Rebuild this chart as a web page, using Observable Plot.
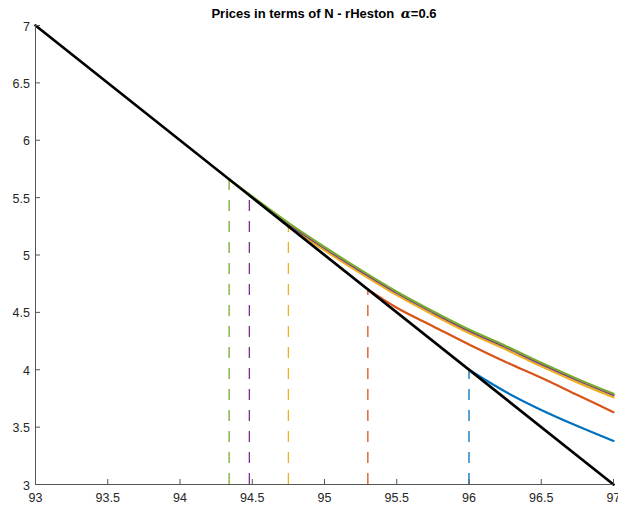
<!DOCTYPE html>
<html><head><meta charset="utf-8">
<script src="https://cdn.jsdelivr.net/npm/d3@7"></script>
<script src="https://cdn.jsdelivr.net/npm/@observablehq/plot@0.6"></script>
<style>body{margin:0;background:#fff}</style>
</head><body><div id="chart"></div>
<script>
const titleMain = "Prices in terms of N - rHeston ";
const titleAlpha = "α";
const titleRest = "=0.6";
const xTicks = [93, 93.5, 94, 94.5, 95, 95.5, 96, 96.5, 97];
const yTicks = [3, 3.5, 4, 4.5, 5, 5.5, 6, 6.5, 7];

const payoffX = [93, 97];
const payoffY = [7, 3];

const blueX = [96, 96.25, 96.5, 96.75, 97];
const blueY = [4.0, 3.81, 3.65, 3.51, 3.38];
const orangeX = [95.30, 95.5, 95.75, 96, 96.25, 96.5, 96.75, 97];
const orangeY = [4.70, 4.54, 4.38, 4.22, 4.07, 3.93, 3.78, 3.63];
const yellowX = [94.75, 95, 95.25, 95.5, 95.75, 96, 96.25, 96.5, 96.75, 97];
const yellowY = [5.25, 5.04, 4.84, 4.65, 4.48, 4.32, 4.18, 4.03, 3.89, 3.76];
const purpleX = [94.48, 94.75, 95, 95.25, 95.5, 95.75, 96, 96.25, 96.5, 96.75, 97];
const purpleY = [5.52, 5.27, 5.06, 4.86, 4.67, 4.50, 4.34, 4.20, 4.05, 3.91, 3.78];
const greenX = [94.34, 94.5, 94.75, 95, 95.25, 95.5, 95.75, 96, 96.25, 96.5, 96.75, 97];
const greenY = [5.66, 5.51, 5.28, 5.07, 4.87, 4.68, 4.51, 4.35, 4.21, 4.06, 3.92, 3.79];

const seriesX = [blueX, orangeX, yellowX, purpleX, greenX];
const seriesY = [blueY, orangeY, yellowY, purpleY, greenY];
const colors = ["#0072BD", "#D95319", "#EDB120", "#7E2F8E", "#77AC30"];

const textColor = "#262626";
const font = "'Liberation Sans', Arial, Helvetica, sans-serif";

const strikes = seriesX.map(xs => xs[0]);
const strikeTops = seriesY.map(ys => ys[0]);
const dashRows = strikes.map((k, i) => ({k, top: strikeTops[i], c: colors[i]}));

const W = 618, H = 508, mL = 35, mR = 5, mT = 25, mB = 24;

const marks = [];
marks.push(Plot.ruleX(dashRows, {x: "k", y1: yTicks[0], y2: "top", stroke: "c", strokeWidth: 1.3, strokeDasharray: "11,10"}));
seriesX.forEach((xs, i) => {
  const rows = xs.map((x, j) => ({x, y: seriesY[i][j]}));
  marks.push(Plot.line(rows, {x: "x", y: "y", stroke: colors[i], strokeWidth: 2.2, curve: "monotone-x"}));
});
marks.push(Plot.line(payoffX.map((x, j) => ({x, y: payoffY[j]})), {x: "x", y: "y", stroke: "#000", strokeWidth: 2.7}));
marks.push(Plot.ruleY([yTicks[0]], {stroke: "#555", strokeWidth: 1}));
marks.push(Plot.ruleX([xTicks[0]], {stroke: "#555", strokeWidth: 1}));
marks.push(Plot.tickX(xTicks, {x: d => d, insetTop: (H - mT - mB) - 5, stroke: "#555", strokeWidth: 1}));
marks.push(Plot.tickY(yTicks, {y: d => d, insetRight: (W - mL - mR) - 5, stroke: "#555", strokeWidth: 1}));
marks.push(Plot.axisX({ticks: xTicks, tickSize: 0, tickPadding: 9, tickFormat: d => String(d), fill: textColor, fontSize: 12.5}));
marks.push(Plot.axisY({ticks: yTicks, tickSize: 0, tickPadding: 5.5, tickFormat: d => String(d), fill: textColor, fontSize: 12.5, dy: 1}));

const chart = Plot.plot({
  width: W, height: H,
  marginLeft: mL, marginRight: mR, marginTop: mT, marginBottom: mB,
  style: {fontFamily: font, fontSize: "12.5px", background: "#fff", color: textColor, overflow: "visible"},
  x: {domain: [xTicks[0], xTicks[xTicks.length - 1]], axis: null},
  y: {domain: [yTicks[0], yTicks[yTicks.length - 1]], axis: null},
  marks
});

const svg = d3.select(chart);
const t = svg.append("text")
  .attr("x", (mL + W - mR) / 2)
  .attr("y", 18)
  .attr("text-anchor", "middle")
  .attr("fill", "#000")
  .style("font-family", font)
  .style("font-size", "13px")
  .style("font-weight", "bold");
t.append("tspan").text(titleMain);
t.append("tspan").attr("dx", 3).style("font-family", "'DejaVu Serif', 'Liberation Serif', serif").style("font-style", "italic").text(titleAlpha);
t.append("tspan").text(titleRest);

document.getElementById("chart").appendChild(chart);
</script>
</body></html>
